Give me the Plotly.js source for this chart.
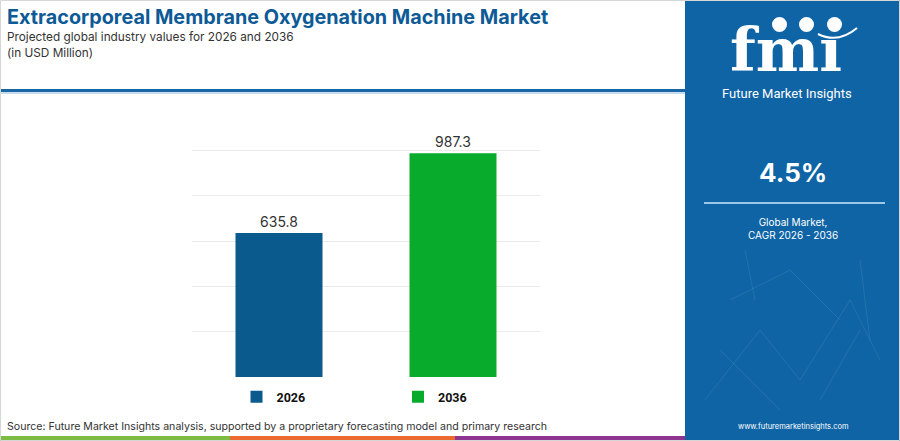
<!DOCTYPE html>
<html>
<head>
<meta charset="utf-8">
<script src="https://cdn.plot.ly/plotly-3.0.1.min.js"></script>
<style>html,body{margin:0;padding:0;background:#fff;}#chart{width:900px;height:441px;}</style>
</head>
<body>
<div id="chart"></div>
<script>
const categories = ["2026", "2036"];
const values = [635.8, 987.3];
const barColors = ["#0b5a8e", "#09ab2d"];
const titleText = "Extracorporeal Membrane Oxygenation Machine Market";
const subtitleText = "Projected global industry values for 2026 and 2036";
const unitText = "(in USD Million)";
const cagrText = "4.5%";
const cagrLabel = "Global Market,<br>CAGR 2026 - 2036";
const sourceText = "Source: Future Market Insights analysis, supported by a proprietary forecasting model and primary research";
const siteText = "www.futuremarketinsights.com";

const W = 900, H = 441;
const M = {l: 192, r: 360, t: 130, b: 64};
const PW = W - M.l - M.r, PH = H - M.t - M.b;
const px = x => (x - M.l) / PW;
const py = y => (H - M.b - y) / PH;

const traces = categories.map((c, i) => ({
  type: "bar",
  x: [c],
  y: [values[i]],
  name: c,
  width: 0.5,
  marker: {color: barColors[i]},
  text: [values[i].toFixed(1)],
  textposition: "outside",
  textfont: {family: "Inter, Roboto, sans-serif", size: 14, color: "#333333"},
  cliponaxis: false,
  hoverinfo: "skip"
}));

const font = "Inter, 'Open Sans', sans-serif";
const shapes = [
  {type: "rect", xref: "paper", yref: "paper", x0: px(685), x1: px(900), y0: py(441), y1: py(0), fillcolor: "#0e64a5", line: {width: 0}, layer: "below"},
  {type: "rect", xref: "paper", yref: "paper", x0: px(0), x1: px(685), y0: py(92), y1: py(89), fillcolor: "#1b67a5", line: {width: 0}},
  {type: "line", xref: "paper", yref: "paper", x0: px(0), x1: px(685), y0: py(93), y1: py(93), line: {color: "#8fb9dc", width: 1}},
  {type: "line", xref: "paper", yref: "paper", x0: px(704), x1: px(885), y0: py(203), y1: py(203), line: {color: "#9ec8ea", width: 2}},
  {type: "rect", xref: "paper", yref: "paper", x0: px(0), x1: px(230), y0: py(441), y1: py(436), fillcolor: "#7dbb42", line: {width: 0}},
  {type: "rect", xref: "paper", yref: "paper", x0: px(230), x1: px(455), y0: py(441), y1: py(436), fillcolor: "#ec6a2f", line: {width: 0}},
  {type: "rect", xref: "paper", yref: "paper", x0: px(455), x1: px(685), y0: py(441), y1: py(436), fillcolor: "#8e3592", line: {width: 0}},
  {type: "circle", xref: "paper", yref: "paper", x0: px(772), x1: px(787), y0: py(32), y1: py(17), fillcolor: "#ffffff", line: {width: 0}},
  {type: "circle", xref: "paper", yref: "paper", x0: px(799), x1: px(814), y0: py(32), y1: py(17), fillcolor: "#ffffff", line: {width: 0}},
  {type: "circle", xref: "paper", yref: "paper", x0: px(827), x1: px(842), y0: py(32), y1: py(17), fillcolor: "#ffffff", line: {width: 0}},
  {type: "path", xref: "paper", yref: "paper", path: `M ${px(818)} ${py(34)} Q ${px(838)} ${py(44)} ${px(857)} ${py(28)}`, line: {color: "#ffffff", width: 2}},
  {type: "rect", xref: "paper", yref: "paper", x0: px(0.5), x1: px(899.5), y0: py(440.5), y1: py(0.5), line: {color: "#d6d6d6", width: 1}}
];

const net = [[705,400,760,330],[760,330,800,380],[800,380,850,300],[850,300,880,360],[730,300,790,270],[790,270,840,320],[720,350,780,410],[860,260,870,340],[745,250,755,300],[820,400,860,330]];
net.forEach(n => shapes.push({type: "line", xref: "paper", yref: "paper", x0: px(n[0]), y0: py(n[1]), x1: px(n[2]), y1: py(n[3]), line: {color: "rgba(255,255,255,0.09)", width: 1}, layer: "below"}));

const annotations = [
  {text: subtitleText, x: px(5), y: py(37.5), xref: "paper", yref: "paper", xanchor: "left", yanchor: "middle", showarrow: false, font: {family: font, size: 11.8, color: "#333333"}},
  {text: unitText, x: px(5), y: py(53.5), xref: "paper", yref: "paper", xanchor: "left", yanchor: "middle", showarrow: false, font: {family: font, size: 11.8, color: "#333333"}},
  {text: "<b>fmı</b>", x: px(786), y: py(50), xref: "paper", yref: "paper", xanchor: "center", yanchor: "middle", showarrow: false, font: {family: "'DejaVu Serif', serif", size: 60, color: "#ffffff"}},
  {text: "Future Market Insights", x: px(787), y: py(93), xref: "paper", yref: "paper", xanchor: "center", yanchor: "middle", showarrow: false, font: {family: "Roboto, sans-serif", size: 13, color: "#ffffff"}},
  {text: "<b>" + cagrText + "</b>", x: px(793), y: py(172), xref: "paper", yref: "paper", xanchor: "center", yanchor: "middle", showarrow: false, font: {family: font, size: 26, color: "#ffffff"}},
  {text: cagrLabel, x: px(793), y: py(228), xref: "paper", yref: "paper", xanchor: "center", yanchor: "middle", showarrow: false, font: {family: font, size: 10, color: "#ffffff"}},
  {text: siteText, x: px(793), y: py(426), xref: "paper", yref: "paper", xanchor: "center", yanchor: "middle", showarrow: false, font: {family: font, size: 7.5, color: "#ffffff"}},
  {text: sourceText, x: px(5), y: py(426), xref: "paper", yref: "paper", xanchor: "left", yanchor: "middle", showarrow: false, font: {family: font, size: 10.6, color: "#333333"}}
];

const layout = {
  width: W, height: H, autosize: false,
  margin: M,
  paper_bgcolor: "#ffffff", plot_bgcolor: "#ffffff",
  title: {text: "<b>" + titleText + "</b>", x: 7 / W, xanchor: "left", y: 1 - 17 / H, yanchor: "middle", font: {family: font, size: 19.8, color: "#0d5a96"}},
  barmode: "overlay",
  xaxis: {type: "category", range: [-0.5, 1.5], showticklabels: false, showgrid: false, zeroline: false, showline: false, fixedrange: true},
  yaxis: {range: [0, 1090], dtick: 200, tick0: 0, showticklabels: false, showgrid: true, gridcolor: "#ececec", gridwidth: 1, zeroline: false, showline: false, fixedrange: true},
  showlegend: true,
  legend: {orientation: "h", x: px(236.5), xanchor: "left", y: py(397), yanchor: "middle", entrywidth: 116.5, entrywidthmode: "pixels", font: {family: "Roboto, sans-serif", size: 12.5, color: "#111111", weight: "bold"}, bgcolor: "rgba(0,0,0,0)"},
  shapes: shapes,
  annotations: annotations
};

Plotly.newPlot("chart", traces, layout, {displayModeBar: false, staticPlot: true});
</script>
</body>
</html>
